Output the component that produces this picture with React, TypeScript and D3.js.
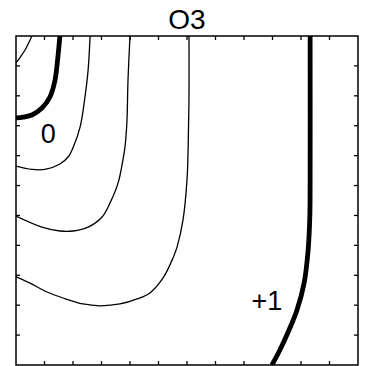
import React from "react";
import * as d3 from "d3";

const title = "O3";
const xTicks = [1, 2, 3, 4, 5, 6, 7, 8, 9, 10, 11];
const yTicks = [1, 2, 3, 4, 5, 6, 7, 8, 9, 10];

// contour lines in data coordinates [x, y]
const contourA: [number, number][] = [[0.56, 11], [0.45, 10.78], [0.33, 10.55], [0.14, 10.28], [0, 10.1]];
const contourZero: [number, number][] = [[1.54, 11], [1.47, 10.3], [1.37, 9.53], [1.19, 8.96], [0.91, 8.59], [0.56, 8.36], [0.25, 8.29], [0, 8.26]];
const contourB: [number, number][] = [[2.6, 11], [2.53, 9.86], [2.42, 8.96], [2.25, 7.96], [2.0, 7.26], [1.85, 6.98], [1.54, 6.72], [1.02, 6.54], [0.56, 6.54], [0, 6.65]];
const contourC: [number, number][] = [[4.0, 11], [3.93, 9.53], [3.89, 8.09], [3.82, 7.26], [3.75, 6.85], [3.58, 6.08], [3.3, 5.42], [3.02, 4.95], [2.53, 4.61], [2.0, 4.48], [1.54, 4.48], [0.91, 4.61], [0, 4.98]];
const contourD: [number, number][] = [[6.07, 11], [6.07, 8.96], [6.04, 7.26], [6.0, 6.19], [5.86, 4.85], [5.65, 3.94], [5.51, 3.58], [5.16, 2.91], [4.7, 2.41], [4.25, 2.21], [3.65, 2.04], [2.95, 1.98], [2.35, 2.04], [1.65, 2.24], [1.09, 2.44], [0.49, 2.74], [0, 2.95]];
const contourOne: [number, number][] = [[10.32, 11], [10.32, 6.08], [10.31, 4.98], [10.25, 3.84], [10.11, 2.74], [9.86, 1.84], [9.58, 1.17], [9.26, 0.5], [8.98, 0]];

const thinLines = [contourA, contourB, contourC, contourD];
const thickLines = [contourZero, contourOne];

const labels: { text: string; x: number; y: number }[] = [
  { text: "0", x: 1.13, y: 7.42 },
  { text: "+1", x: 8.8, y: 1.84 },
];

const W = 365;
const H = 366;
const left = 16;
const right = 358;
const top = 36;
const bottom = 365;

export default function App() {
  const x = d3.scaleLinear().domain([0, 12]).range([left, right]);
  const y = d3.scaleLinear().domain([0, 11]).range([bottom, top]);
  const line = d3
    .line<[number, number]>()
    .x((d) => x(d[0]))
    .y((d) => y(d[1]))
    .curve(d3.curveCatmullRom.alpha(0.5));
  const tl = 4;
  const font = "Liberation Sans, Arial, Helvetica, sans-serif";
  return (
    <svg
      width={W}
      height={H}
      style={{ position: "absolute", left: 0, top: 0, background: "#fff" }}
    >
      <defs>
        <clipPath id="plotclip">
          <rect x={left} y={top} width={right - left} height={bottom - top} />
        </clipPath>
      </defs>
      <g clipPath="url(#plotclip)" fill="none" stroke="#000">
        {thinLines.map((c, i) => (
          <path key={"t" + i} d={line(c) || ""} strokeWidth={1.3} />
        ))}
        {thickLines.map((c, i) => (
          <path key={"k" + i} d={line(c) || ""} strokeWidth={4.8} />
        ))}
      </g>
      <g stroke="#000" strokeWidth={1.3}>
        {xTicks.map((t) => (
          <g key={"x" + t}>
            <line x1={x(t)} x2={x(t)} y1={top} y2={top + tl} />
            <line x1={x(t)} x2={x(t)} y1={bottom} y2={bottom - tl} />
          </g>
        ))}
        {yTicks.map((t) => (
          <g key={"y" + t}>
            <line x1={left} x2={left + tl} y1={y(t)} y2={y(t)} />
            <line x1={right} x2={right - tl} y1={y(t)} y2={y(t)} />
          </g>
        ))}
      </g>
      <rect
        x={left}
        y={top}
        width={right - left}
        height={bottom - top}
        fill="none"
        stroke="#000"
        strokeWidth={1.5}
      />
      <text
        x={(left + right) / 2}
        y={29}
        textAnchor="middle"
        fontFamily={font}
        fontSize={28}
        fill="#000"
      >
        {title}
      </text>
      {labels.map((l) => (
        <text
          key={l.text}
          x={x(l.x)}
          y={y(l.y)}
          textAnchor="middle"
          fontFamily={font}
          fontSize={27}
          fill="#000"
        >
          {l.text}
        </text>
      ))}
    </svg>
  );
}
